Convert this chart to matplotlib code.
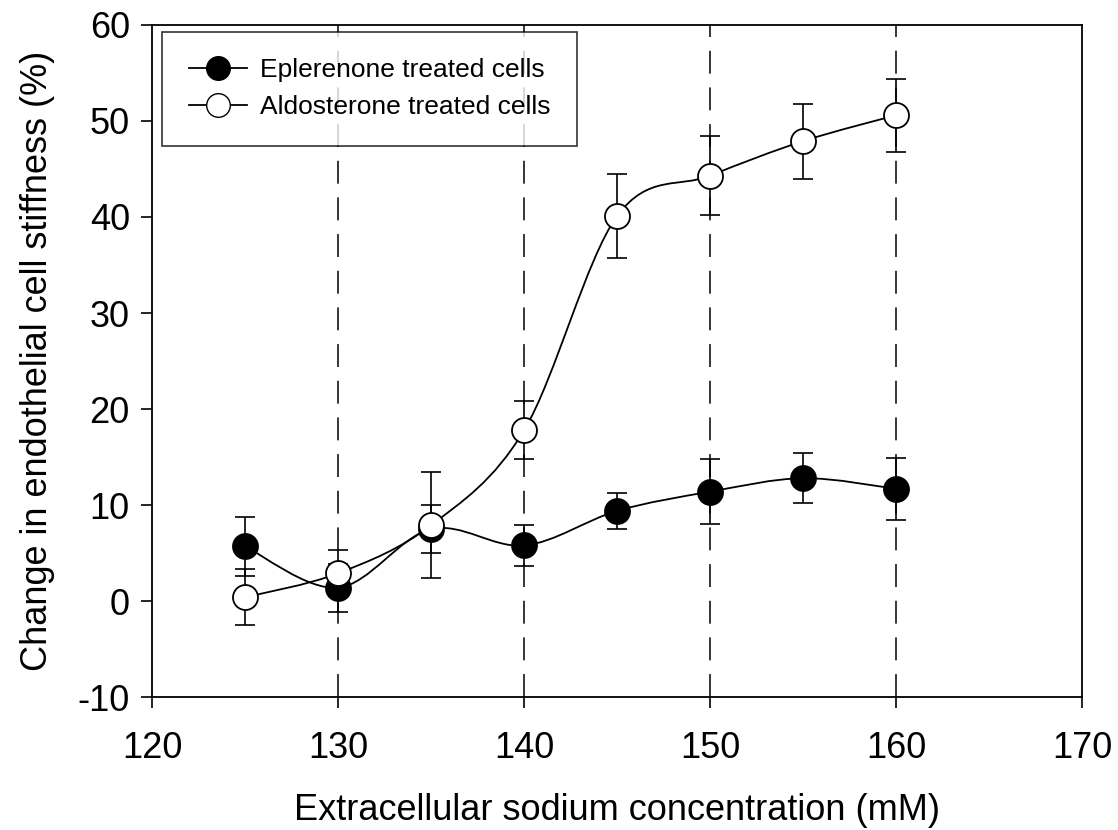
import matplotlib
matplotlib.use("Agg")
import matplotlib.pyplot as plt
from matplotlib.path import Path
from matplotlib.patches import PathPatch
from matplotlib.lines import Line2D
import numpy as np

plt.rcParams['font.family'] = ['Liberation Sans', 'DejaVu Sans']
plt.rcParams['axes.unicode_minus'] = False

sodium = [125, 130, 135, 140, 145, 150, 155, 160]
eplerenone = [5.7, 1.4, 7.5, 5.8, 9.4, 11.4, 12.8, 11.7]
eplerenone_err = [3.1, 2.5, 2.5, 2.1, 1.9, 3.4, 2.6, 3.2]
aldosterone = [0.4, 2.9, 7.9, 17.8, 40.1, 44.3, 47.9, 50.6]
aldosterone_err = [2.9, 2.4, 5.5, 3.0, 4.4, 4.1, 3.9, 3.8]
guide_x = [130, 140, 150, 160]


def smooth_path(x, y):
    # Catmull-Rom style bezier through the points
    x = np.asarray(x, float)
    y = np.asarray(y, float)
    n = len(x)
    verts = [(x[0], y[0])]
    codes = [Path.MOVETO]
    for i in range(n - 1):
        x0, y0 = (x[i - 1], y[i - 1]) if i > 0 else (x[i], y[i])
        x3, y3 = (x[i + 2], y[i + 2]) if i + 2 < n else (x[i + 1], y[i + 1])
        c1 = (x[i] + (x[i + 1] - x0) / 6, y[i] + (y[i + 1] - y0) / 6)
        c2 = (x[i + 1] - (x3 - x[i]) / 6, y[i + 1] - (y3 - y[i]) / 6)
        verts += [c1, c2, (x[i + 1], y[i + 1])]
        codes += [Path.CURVE4] * 3
    return Path(verts, codes)


fig = plt.figure(figsize=(11.18, 8.30), dpi=100)
ax = fig.add_axes([0.136, 0.160, 0.832, 0.810])

for gx in guide_x:
    ax.axvline(gx, color='black', lw=1.1, dashes=(15, 9), zorder=1)

for yv in (eplerenone, aldosterone):
    ax.add_patch(PathPatch(smooth_path(sodium, yv), fill=False,
                           edgecolor='black', lw=1.3, zorder=2))

ax.errorbar(sodium, eplerenone, yerr=eplerenone_err, fmt='none',
            ecolor='black', elinewidth=1.2, capsize=7.5, capthick=1.2, zorder=3)
ax.errorbar(sodium, aldosterone, yerr=aldosterone_err, fmt='none',
            ecolor='black', elinewidth=1.2, capsize=7.5, capthick=1.2, zorder=3)
ax.plot(sodium, eplerenone, 'o', ms=18, mfc='black', mec='black',
        mew=1.3, zorder=4)
ax.plot(sodium, aldosterone, 'o', ms=18, mfc='white', mec='black',
        mew=1.3, zorder=5)

ax.set_xlim(120, 170)
ax.set_ylim(-10, 60)
ax.set_xticks(range(120, 171, 10))
ax.set_yticks(range(-10, 61, 10))
ax.tick_params(direction='out', length=8, width=1.2, labelsize=26, pad=8)
ax.tick_params(axis='x', pad=16)
for s in ax.spines.values():
    s.set_linewidth(1.3)

ax.set_xlabel('Extracellular sodium concentration (mM)', fontsize=26, labelpad=20)
ax.set_ylabel('Change in endothelial cell stiffness (%)', fontsize=26, labelpad=16)

handles = [
    Line2D([], [], color='black', lw=1.3, marker='o', ms=17, mfc='black', mec='black'),
    Line2D([], [], color='black', lw=1.3, marker='o', ms=17, mfc='white', mec='black'),
]
leg = ax.legend(handles, ['Eplerenone treated cells', 'Aldosterone treated cells'],
                loc='upper left', bbox_to_anchor=(0.011, 0.99), fontsize=19,
                frameon=True, fancybox=False, edgecolor='black',
                handlelength=2.2, handletextpad=0.5, borderpad=1.0,
                labelspacing=0.5, borderaxespad=0)
leg.get_frame().set_linewidth(1.2)

fig.savefig('out.png', dpi=100)
